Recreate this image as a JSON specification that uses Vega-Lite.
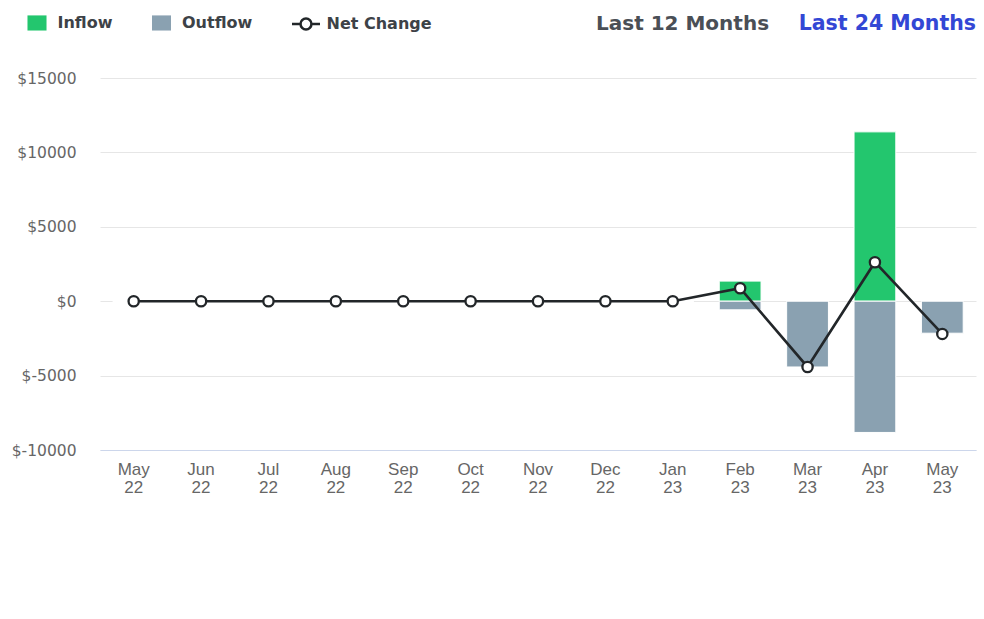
{
  "$schema": "https://vega.github.io/schema/vega-lite/v6.json",
  "width": 876,
  "height": 372,
  "autosize": {"type": "none"},
  "padding": {"left": 100, "top": 78, "right": 8, "bottom": 169},
  "background": "#ffffff",
  "config": {
    "view": {"stroke": null},
    "font": "DejaVu Sans"
  },
  "title": {
    "text": "Last 24 Months",
    "anchor": "end",
    "frame": "group",
    "color": "#3347d5",
    "font": "DejaVu Sans",
    "fontSize": 20.5,
    "fontWeight": "bold",
    "baseline": "alphabetic",
    "offset": -43
  },
  "data": {
    "values": [
      {"month": "May 22", "Inflow": 0, "Outflow": 0, "net": 0},
      {"month": "Jun 22", "Inflow": 0, "Outflow": 0, "net": 0},
      {"month": "Jul 22", "Inflow": 0, "Outflow": 0, "net": 0},
      {"month": "Aug 22", "Inflow": 0, "Outflow": 0, "net": 0},
      {"month": "Sep 22", "Inflow": 0, "Outflow": 0, "net": 0},
      {"month": "Oct 22", "Inflow": 0, "Outflow": 0, "net": 0},
      {"month": "Nov 22", "Inflow": 0, "Outflow": 0, "net": 0},
      {"month": "Dec 22", "Inflow": 0, "Outflow": 0, "net": 0},
      {"month": "Jan 23", "Inflow": 0, "Outflow": 0, "net": 0},
      {"month": "Feb 23", "Inflow": 1350, "Outflow": -580, "net": 870},
      {"month": "Mar 23", "Inflow": 0, "Outflow": -4420, "net": -4420},
      {"month": "Apr 23", "Inflow": 11380, "Outflow": -8820, "net": 2620},
      {"month": "May 23", "Inflow": 0, "Outflow": -2150, "net": -2200}
    ]
  },
  "encoding": {
    "x": {
      "field": "month",
      "type": "ordinal",
      "sort": null,
      "title": null,
      "scale": {"paddingInner": 0.38, "paddingOuter": 0.19},
      "axis": {
        "labelAngle": 0,
        "labelExpr": "split(datum.value, ' ')",
        "labelFont": "Liberation Sans",
        "labelFontSize": 17,
        "labelLineHeight": 18,
        "labelColor": "#666666",
        "labelPadding": 11,
        "ticks": false,
        "domainColor": "#ccd6eb",
        "domainWidth": 1,
        "grid": false
      }
    }
  },
  "layer": [
    {
      "transform": [{"fold": ["Inflow", "Outflow"], "as": ["key", "amount"]}],
      "mark": {"type": "bar", "stroke": "#ffffff", "strokeWidth": 1},
      "encoding": {
        "y": {
          "field": "amount",
          "type": "quantitative",
          "stack": null,
          "title": null,
          "scale": {"domain": [-10000, 15000], "nice": false},
          "axis": {
            "values": [-10000, -5000, 0, 5000, 10000, 15000],
            "labelExpr": "'$' + datum.value",
            "labelFont": "DejaVu Sans",
            "labelFontSize": 15.5,
            "labelColor": "#666666",
            "labelPadding": 24,
            "ticks": false,
            "domain": false,
            "gridColor": "#e6e6e6",
            "gridWidth": 1
          }
        },
        "color": {
          "field": "key",
          "type": "nominal",
          "scale": {"domain": ["Inflow", "Outflow"], "range": ["#23c66e", "#8aa1b1"]},
          "legend": null
        }
      }
    },
    {
      "mark": {"type": "line", "color": "#222629", "strokeWidth": 2.6},
      "encoding": {
        "y": {"field": "net", "type": "quantitative"}
      }
    },
    {
      "mark": {"type": "point", "filled": true, "fill": "#ffffff", "stroke": "#222629", "strokeWidth": 2.3, "size": 105, "opacity": 1, "shape": "circle"},
      "encoding": {
        "y": {"field": "net", "type": "quantitative"}
      }
    },
    {
      "data": {"values": [{"series": "Inflow"}, {"series": "Outflow"}, {"series": "Net Change"}]},
      "mark": {"type": "point", "filled": true, "size": 0, "opacity": 1},
      "encoding": {
        "x": {"value": 0},
        "y": {"value": 0},
        "fill": {
          "field": "series",
          "type": "nominal",
          "sort": null,
          "scale": {"domain": ["Inflow", "Outflow", "Net Change"], "range": ["#23c66e", "#8aa1b1", "#ffffff"]},
          "legend": {
            "orient": "none",
            "legendX": -78.5,
            "legendY": -71,
            "direction": "horizontal",
            "title": null,
            "padding": 0,
            "symbolSize": 784,
            "symbolStrokeWidth": 2.5,
            "symbolOpacity": 1,
            "labelOffset": 5,
            "columnPadding": 33.5,
            "labelFont": "DejaVu Sans",
            "labelFontWeight": "bold",
            "labelFontSize": 16,
            "labelColor": "#3d4247"
          }
        },
        "stroke": {
          "field": "series",
          "type": "nominal",
          "sort": null,
          "scale": {"domain": ["Inflow", "Outflow", "Net Change"], "range": ["transparent", "transparent", "#222629"]},
          "legend": {
            "orient": "none",
            "legendX": -78.5,
            "legendY": -71,
            "direction": "horizontal",
            "title": null,
            "padding": 0,
            "symbolSize": 784,
            "symbolStrokeWidth": 2.5,
            "symbolOpacity": 1,
            "labelOffset": 5,
            "columnPadding": 33.5,
            "labelFont": "DejaVu Sans",
            "labelFontWeight": "bold",
            "labelFontSize": 16,
            "labelColor": "#3d4247"
          }
        },
        "shape": {
          "field": "series",
          "type": "nominal",
          "sort": null,
          "scale": {
            "domain": ["Inflow", "Outflow", "Net Change"],
            "range": [
              "M-0.68,-0.54H0.68V0.54H-0.68Z",
              "M-0.68,-0.54H0.68V0.54H-0.68Z",
              "M-1,0H-0.39M0.39,0H1M-0.39,0A0.39,0.39,0,1,1,0.39,0A0.39,0.39,0,1,1,-0.39,0Z"
            ]
          },
          "legend": {
            "orient": "none",
            "legendX": -78.5,
            "legendY": -71,
            "direction": "horizontal",
            "title": null,
            "padding": 0,
            "symbolSize": 784,
            "symbolStrokeWidth": 2.5,
            "symbolOpacity": 1,
            "labelOffset": 5,
            "columnPadding": 33.5,
            "labelFont": "DejaVu Sans",
            "labelFontWeight": "bold",
            "labelFontSize": 16,
            "labelColor": "#3d4247"
          }
        }
      }
    },
    {
      "data": {"values": [{"period": "Last 12 Months"}]},
      "mark": {"type": "point", "size": 0},
      "encoding": {
        "x": {"value": 0},
        "y": {"value": 0},
        "strokeDash": {
          "field": "period",
          "type": "nominal",
          "legend": {
            "orient": "none",
            "legendX": 476,
            "legendY": -64,
            "direction": "horizontal",
            "title": null,
            "padding": 0,
            "symbolSize": 0,
            "symbolOpacity": 0,
            "symbolStrokeWidth": 0,
            "labelOffset": 0,
            "labelFont": "DejaVu Sans",
            "labelFontWeight": "bold",
            "labelFontSize": 20,
            "labelColor": "#4a4f56",
            "labelLimit": 400
          }
        }
      }
    }
  ]
}
